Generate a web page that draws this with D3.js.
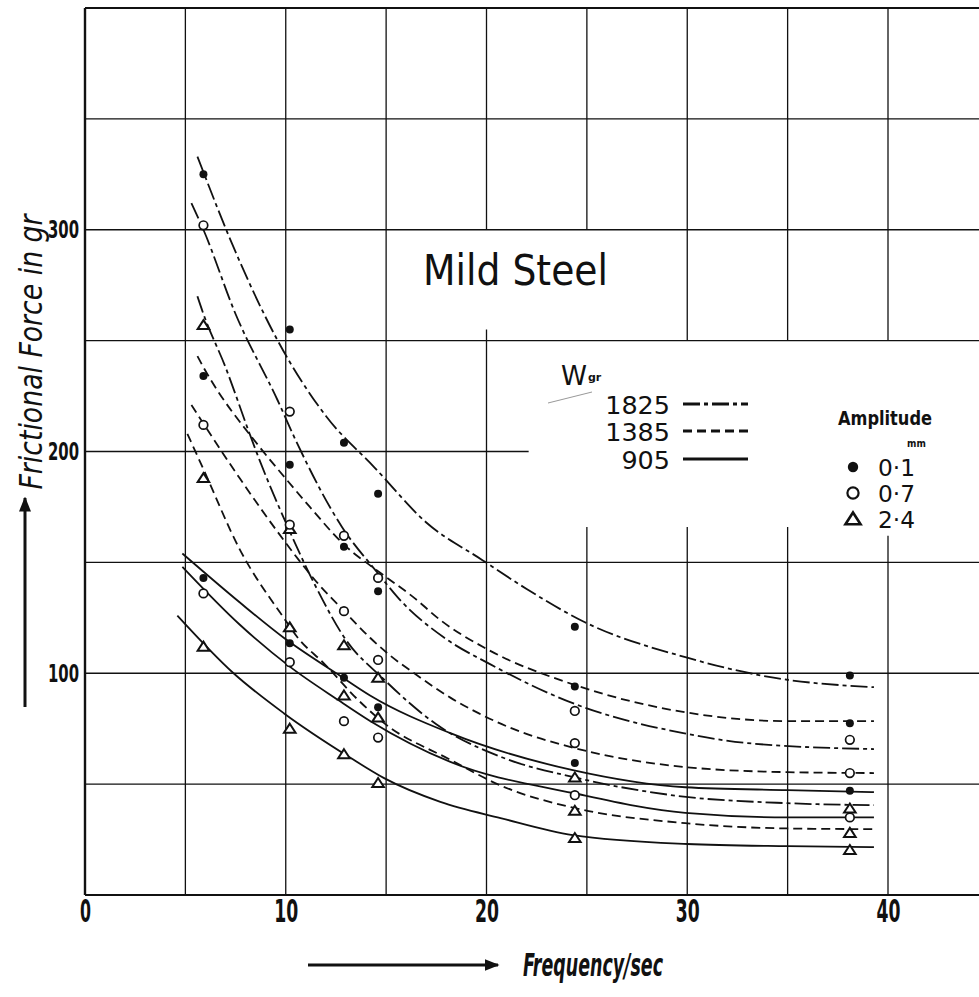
<!DOCTYPE html>
<html><head><meta charset="utf-8">
<script src="https://cdn.jsdelivr.net/npm/d3@7/dist/d3.min.js"></script>
<style>body{margin:0;background:#fff}</style>
</head><body>
<svg id="chart" width="979" height="997"></svg>
<script>
// ---------- data ----------
const X_TICKS = [0, 10, 20, 30, 40];
const Y_TICKS = [100, 200, 300];
const GRID_X = [0, 5, 10, 15, 20, 25, 30, 35, 40, 45];
const GRID_Y = [0, 50, 100, 150, 200, 250, 300, 350, 400];

// frequencies at which the measurements were taken
const FREQ = [5.9, 10.2, 12.9, 14.6, 24.4, 38.1];

// measured points (frictional force, gr) for each weight / amplitude
const PTS_1825_01 = [325, 255, 204, 181, 121, 99];
const PTS_1825_07 = [302, 218, 162, 143, 83, 70];
const PTS_1825_24 = [257, 165, 112.6, 98, 53, 39];
const PTS_1385_01 = [234, 194, 157, 137, 94, 77.5];
const PTS_1385_07 = [212, 167, 128, 106, 68.5, 55];
const PTS_1385_24 = [188, 120.7, 90, 80, 38, 28];
const PTS_905_01  = [143, 113.5, 98, 84.7, 59.5, 47];
const PTS_905_07  = [136, 105, 78.4, 71, 45, 35];
const PTS_905_24  = [112, 75, 63.5, 50.5, 25.7, 20.3];

// hand-drawn fitted curves, read as [frequency, force]
const CUR_1825_01 = [[5.6,333],[7.5,290],[9.6,250],[12,216],[14.4,193],[17,168],[19.8,151],[22,138],[24.9,123],[30,107],[34.3,98],[39.3,93.7]];
const CUR_1825_07 = [[5.3,312],[5.9,300],[7.5,262],[9.6,223],[10.5,205],[12.8,166],[14.6,145],[15.6,134],[17.9,116],[20.2,104],[24.3,86.5],[29.8,73],[33,68.5],[39.3,65.8]];
const CUR_1825_24 = [[5.6,270],[5.9,262],[7,238],[8.2,208],[8.7,196],[10,168],[11.5,139],[13,115],[14.8,98],[17.5,77],[20.8,62],[24.4,53],[29.7,44.5],[35,41.4],[39.3,40.5]];
const CUR_1385_01 = [[5.6,243],[5.9,238],[8.7,202],[9.7,191],[11.2,175],[12.9,158],[14.6,146],[16.4,134],[17.7,124],[20,111],[24.3,95],[29.9,82.4],[35,78.4],[39.3,78.4]];
const CUR_1385_07 = [[5.3,221],[5.8,214],[7.7,188],[9.9,160],[10.4,154],[11.6,140.5],[12.7,130],[14.2,116],[15.2,108],[16.4,100],[18.2,89],[19.6,82],[21.3,75],[24.2,66.7],[29.9,57.7],[35,55.4],[39.3,55]];
const CUR_1385_24 = [[5.1,208],[5.9,192],[7.7,156],[9.9,125],[10.6,116],[11.9,104.5],[13.6,88],[14.9,77.5],[18.2,61],[20.8,49],[24.2,39.6],[29.9,32.4],[35,30],[39.3,29.7]];
const CUR_905_01  = [[4.85,154],[7.7,132],[9.9,116],[12.6,99.5],[14.2,90],[18.2,73],[24.3,56.3],[29.9,48.6],[35,47.3],[39.3,46.4]];
const CUR_905_07  = [[4.85,148],[7.7,122],[10.2,103],[12.6,88],[14.2,78.5],[18.2,60],[24.3,46],[29.9,37],[35,35],[39.3,35]];
const CUR_905_24  = [[4.6,126],[7.4,100],[9.9,82],[13.2,62],[14.9,52.7],[17.7,42],[20.7,34.7],[24.3,27],[30,23],[35,22],[39.3,21.6]];

const WEIGHTS = ["1825", "1385", "905"];
const AMPLITUDES = ["0·1", "0·7", "2·4"];

// grid segments left blank around the text (axis, at, from, to)
const GAPS_V = [[20,255,300],[25,166,300],[30,166,250],[35,166,250],[40,162,250]];
const GAPS_H = [[200,22.1,45]];

// ---------- build ----------
const SERIES = [
  {w:"1825", a:"0·1", pts:PTS_1825_01, cur:CUR_1825_01},
  {w:"1825", a:"0·7", pts:PTS_1825_07, cur:CUR_1825_07},
  {w:"1825", a:"2·4", pts:PTS_1825_24, cur:CUR_1825_24},
  {w:"1385", a:"0·1", pts:PTS_1385_01, cur:CUR_1385_01},
  {w:"1385", a:"0·7", pts:PTS_1385_07, cur:CUR_1385_07},
  {w:"1385", a:"2·4", pts:PTS_1385_24, cur:CUR_1385_24},
  {w:"905",  a:"0·1", pts:PTS_905_01,  cur:CUR_905_01},
  {w:"905",  a:"0·7", pts:PTS_905_07,  cur:CUR_905_07},
  {w:"905",  a:"2·4", pts:PTS_905_24,  cur:CUR_905_24}
];
const DASH = {"1825":"17,4,4,4", "1385":"9,5", "905":null};

const svg = d3.select("#chart");
const x = d3.scaleLinear().domain([0, 40]).range([85, 888]);
const y = d3.scaleLinear().domain([0, 400]).range([895, 8]);
const ink = "#111";

// grid
const grid = svg.append("g").attr("stroke", ink).attr("fill", "none");
function segs(lo, hi, gaps) {
  let out = [[lo, hi]];
  gaps.forEach(([g0, g1]) => {
    out = out.flatMap(([a, b]) => {
      if (g1 <= a || g0 >= b) return [[a, b]];
      const r = [];
      if (g0 > a) r.push([a, g0]);
      if (g1 < b) r.push([g1, b]);
      return r;
    });
  });
  return out;
}
GRID_X.forEach(v => {
  const gaps = GAPS_V.filter(g => g[0] === v).map(g => [g[1], g[2]]);
  segs(0, 400, gaps).forEach(([a, b]) => {
    grid.append("line").attr("x1", x(v)).attr("x2", x(v)).attr("y1", y(a)).attr("y2", y(b))
      .attr("stroke-width", v === 0 ? 2.4 : 1.3);
  });
});
GRID_Y.forEach(v => {
  const gaps = GAPS_H.filter(g => g[0] === v).map(g => [g[1], g[2]]);
  segs(0, 45, gaps).forEach(([a, b]) => {
    grid.append("line").attr("y1", y(v)).attr("y2", y(v)).attr("x1", x(a)).attr("x2", x(b))
      .attr("stroke-width", (v === 0 || v === 400) ? 2.2 : 1.3);
  });
});

// curves
const line = d3.line().x(d => x(d[0])).y(d => y(d[1])).curve(d3.curveMonotoneX);
svg.append("g").selectAll("path").data(SERIES).join("path")
  .attr("d", d => line(d.cur))
  .attr("fill", "none").attr("stroke", ink).attr("stroke-width", 1.8)
  .attr("stroke-dasharray", d => DASH[d.w]);

// markers
function drawMarker(g, amp, cx, cy, s) {
  if (amp === "0·1") {
    g.append("circle").attr("cx", cx).attr("cy", cy).attr("r", 4 * s).attr("fill", ink);
  } else if (amp === "0·7") {
    g.append("circle").attr("cx", cx).attr("cy", cy).attr("r", 4.3 * s)
      .attr("fill", "#fff").attr("stroke", ink).attr("stroke-width", 1.7 * s);
  } else {
    const p = d3.path();
    p.moveTo(cx, cy - 5 * s); p.lineTo(cx + 5.8 * s, cy + 4 * s); p.lineTo(cx - 5.8 * s, cy + 4 * s); p.closePath();
    g.append("path").attr("d", p.toString()).attr("fill", "#fff")
      .attr("stroke", ink).attr("stroke-width", 2 * s).attr("stroke-linejoin", "miter");
  }
}
const mk = svg.append("g");
SERIES.forEach(s => s.pts.forEach((v, i) => {
  if (v != null) drawMarker(mk, s.a, x(FREQ[i]), y(v), 1);
}));

// axes tick labels
const font = "'DejaVu Sans Condensed','Liberation Sans Narrow','DejaVu Sans',sans-serif";
const ax = svg.append("g").attr("transform", "translate(0,895)")
  .call(d3.axisBottom(x).tickValues(X_TICKS).tickSize(0).tickPadding(4).tickFormat(d3.format("d")));
ax.select(".domain").remove();
ax.selectAll("text").attr("font-family", font).attr("font-size", 32).attr("font-weight", "bold")
  .attr("fill", ink).attr("textLength", d => d === 0 ? 11 : 24).attr("lengthAdjust", "spacingAndGlyphs");
const ay = svg.append("g").attr("transform", "translate(85,0)")
  .call(d3.axisLeft(y).tickValues(Y_TICKS).tickSize(0).tickPadding(6).tickFormat(d3.format("d")));
ay.select(".domain").remove();
ay.selectAll("text").attr("font-family", font).attr("font-size", 25).attr("font-weight", "bold")
  .attr("fill", ink).attr("textLength", 31).attr("lengthAdjust", "spacingAndGlyphs");

// titles
svg.append("text").attr("x", 423).attr("y", 285).attr("font-family", "'DejaVu Sans',sans-serif")
  .attr("font-size", 42).attr("fill", ink).attr("textLength", 185).attr("lengthAdjust", "spacingAndGlyphs")
  .text("Mild  Steel");

svg.append("text").attr("transform", "translate(42,352) rotate(-90)").attr("text-anchor", "middle")
  .attr("font-family", font).attr("font-style", "italic").attr("font-size", 32).attr("fill", ink)
  .attr("textLength", 275).attr("lengthAdjust", "spacingAndGlyphs").text("Frictional Force in gr");

svg.append("text").attr("x", 523).attr("y", 976)
  .attr("font-family", font).attr("font-style", "italic").attr("font-weight", "bold").attr("font-size", 32).attr("fill", ink)
  .attr("textLength", 140).attr("lengthAdjust", "spacingAndGlyphs").text("Frequency/sec");

// arrows
const defs = svg.append("defs");
defs.append("marker").attr("id", "ah").attr("viewBox", "0 0 10 10").attr("refX", 9).attr("refY", 5)
  .attr("markerWidth", 5).attr("markerHeight", 5).attr("orient", "auto")
  .append("path").attr("d", "M0,1 L10,5 L0,9 Z").attr("fill", ink);
svg.append("line").attr("x1", 25).attr("x2", 25).attr("y1", 707).attr("y2", 498)
  .attr("stroke", ink).attr("stroke-width", 3).attr("marker-end", "url(#ah)");
svg.append("line").attr("x1", 308).attr("x2", 498).attr("y1", 965).attr("y2", 965)
  .attr("stroke", ink).attr("stroke-width", 3).attr("marker-end", "url(#ah)");

// legend: weights
const lg = svg.append("g").attr("font-family", "'DejaVu Sans',sans-serif").attr("fill", ink);
lg.append("text").attr("x", 561).attr("y", 385).attr("font-size", 26).attr("textLength", 26)
  .attr("lengthAdjust", "spacingAndGlyphs").text("W");
lg.append("text").attr("x", 588).attr("y", 381).attr("font-size", 11).attr("font-weight", "bold").text("gr");
svg.append("line").attr("x1", 548).attr("y1", 403).attr("x2", 592).attr("y2", 392)
  .attr("stroke", "#999").attr("stroke-width", 1);
WEIGHTS.forEach((w, i) => {
  const yy = [414, 441, 469][i];
  lg.append("text").attr("x", 670).attr("y", yy).attr("text-anchor", "end").attr("font-size", 25)
    .attr("textLength", w.length * 16.2).attr("lengthAdjust", "spacingAndGlyphs").text(w);
  svg.append("line").attr("x1", 683).attr("x2", 748).attr("y1", yy - 10).attr("y2", yy - 10)
    .attr("stroke", ink).attr("stroke-width", 2.8).attr("stroke-dasharray", DASH[w]);
});

// legend: amplitudes
const la = svg.append("g").attr("font-family", font).attr("fill", ink);
la.append("text").attr("x", 838).attr("y", 425).attr("font-size", 20).attr("font-weight", "bold")
  .attr("textLength", 94).attr("lengthAdjust", "spacingAndGlyphs").text("Amplitude");
la.append("text").attr("x", 907).attr("y", 447).attr("font-size", 10).attr("font-weight", "bold").text("mm");
AMPLITUDES.forEach((a, i) => {
  const yy = [467, 493, 519][i];
  drawMarker(svg, a, 853, yy, 1.3);
  la.append("text").attr("x", 878).attr("y", yy + 9).attr("font-size", 23)
    .attr("textLength", 37).attr("lengthAdjust", "spacingAndGlyphs").text(a);
});
</script>
</body></html>
